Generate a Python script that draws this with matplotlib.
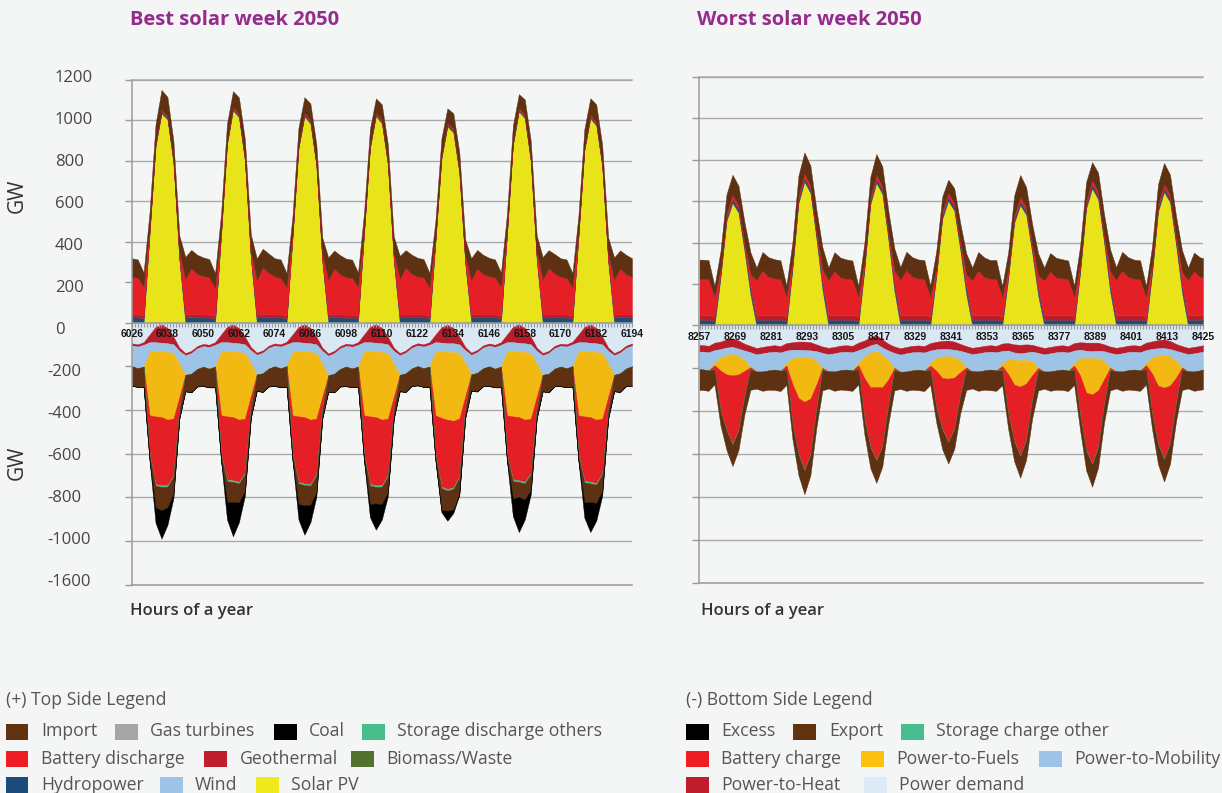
import numpy as np
import matplotlib
matplotlib.use("Agg")
import matplotlib.pyplot as plt
from matplotlib.patches import Rectangle

W, H = 1222, 793
BG = "#F4F6F5"
FONT = ["Open Sans", "DejaVu Sans"]

# ---------------- data: best solar week (2-hourly, GW) ----------------
best_hours = np.arange(6026, 6195, 2)
best_ticks = list(range(6026, 6195, 12))

best_solar = [
    0, 0, 0, 440, 870, 1035, 1005, 790, 310, 0, 0, 0,
    0, 0, 0, 430, 880, 1050, 1015, 800, 315, 0, 0, 0,
    0, 0, 0, 420, 860, 1020, 985, 775, 300, 0, 0, 0,
    0, 0, 0, 435, 860, 1022, 985, 780, 305, 0, 0, 0,
    0, 0, 0, 400, 810, 970, 940, 740, 290, 0, 0, 0,
    0, 0, 0, 430, 875, 1045, 1010, 795, 310, 0, 0, 0,
    0, 0, 0, 420, 850, 1010, 975, 770, 300, 0, 0, 0,
    0]
best_hydro = [
    25, 25, 22, 8, 8, 8, 8, 8, 10, 25, 26, 25,
    25, 24, 22, 8, 8, 8, 8, 8, 10, 24, 26, 25,
    25, 25, 22, 8, 8, 8, 8, 8, 10, 25, 26, 25,
    24, 24, 22, 8, 8, 8, 8, 8, 10, 25, 25, 25,
    25, 25, 22, 8, 8, 8, 8, 8, 10, 25, 26, 25,
    25, 25, 22, 8, 8, 8, 8, 8, 10, 24, 25, 25,
    25, 25, 22, 8, 8, 8, 8, 8, 10, 25, 26, 25,
    25]
best_geo = [
    15, 15, 15, 10, 8, 8, 8, 8, 10, 15, 15, 15,
    15, 15, 15, 10, 8, 8, 8, 8, 10, 15, 15, 15,
    15, 15, 15, 10, 8, 8, 8, 8, 10, 15, 15, 15,
    15, 15, 15, 10, 8, 8, 8, 8, 10, 15, 15, 15,
    15, 15, 15, 10, 8, 8, 8, 8, 10, 15, 15, 15,
    15, 15, 15, 10, 8, 8, 8, 8, 10, 15, 15, 15,
    15, 15, 15, 10, 8, 8, 8, 8, 10, 15, 15, 15,
    15]
best_battery = [
    186, 182, 140, 10, 3, 3, 3, 5, 20, 175, 228, 200,
    190, 185, 135, 10, 3, 3, 3, 5, 20, 170, 232, 205,
    188, 180, 138, 10, 3, 3, 3, 5, 20, 172, 225, 198,
    185, 182, 140, 10, 3, 3, 3, 5, 20, 178, 230, 202,
    186, 184, 136, 10, 3, 3, 3, 5, 20, 170, 226, 200,
    188, 182, 140, 10, 3, 3, 3, 5, 20, 175, 228, 203,
    186, 180, 138, 10, 3, 3, 3, 5, 20, 172, 226, 200,
    186]
best_import = [
    92, 90, 70, 80, 92, 97, 92, 88, 80, 110, 90, 95,
    92, 90, 72, 80, 85, 76, 80, 85, 80, 108, 92, 96,
    90, 92, 70, 80, 85, 76, 80, 85, 80, 110, 90, 95,
    92, 90, 70, 78, 80, 68, 75, 82, 80, 112, 88, 94,
    94, 90, 72, 78, 82, 71, 76, 82, 80, 108, 92, 95,
    92, 90, 70, 78, 80, 66, 75, 82, 80, 110, 90, 96,
    92, 92, 70, 80, 88, 81, 85, 86, 80, 110, 90, 95,
    92]
# bottom side (magnitudes, drawn as negative)
best_demand = [
    95, 100, 90, 55, 20, 8, 25, 65, 115, 140, 130, 108,
    98, 102, 90, 55, 20, 8, 25, 65, 112, 138, 128, 106,
    96, 100, 88, 55, 20, 8, 25, 65, 115, 142, 130, 108,
    97, 101, 90, 55, 20, 8, 25, 65, 115, 140, 128, 106,
    95, 100, 90, 55, 22, 10, 25, 65, 112, 138, 126, 105,
    96, 102, 90, 55, 20, 8, 25, 65, 115, 140, 130, 107,
    97, 100, 88, 55, 20, 8, 25, 65, 115, 140, 128, 106,
    96]
best_heat = [
    10, 10, 12, 35, 70, 85, 70, 35, 15, 10, 10, 10,
    10, 10, 12, 35, 70, 85, 70, 35, 15, 10, 10, 10,
    10, 10, 12, 35, 70, 85, 70, 35, 15, 10, 10, 10,
    10, 10, 12, 35, 70, 85, 70, 35, 15, 10, 10, 10,
    10, 10, 12, 35, 70, 85, 70, 35, 15, 10, 10, 10,
    10, 10, 12, 35, 70, 85, 70, 35, 15, 10, 10, 10,
    10, 10, 12, 35, 70, 85, 70, 35, 15, 10, 10, 10,
    10]
best_mobility = [
    95, 100, 100, 45, 40, 40, 40, 40, 60, 90, 95, 95,
    95, 100, 100, 45, 40, 40, 40, 40, 60, 90, 95, 95,
    95, 100, 100, 45, 40, 40, 40, 40, 60, 90, 95, 95,
    95, 100, 100, 45, 40, 40, 40, 40, 60, 90, 95, 95,
    95, 100, 100, 45, 40, 40, 40, 40, 60, 90, 95, 95,
    95, 100, 100, 45, 40, 40, 40, 40, 60, 90, 95, 95,
    95, 100, 100, 45, 40, 40, 40, 40, 60, 90, 95, 95,
    95]
best_fuels = [
    0, 0, 0, 290, 300, 300, 310, 300, 150, 0, 0, 0,
    0, 0, 0, 290, 300, 300, 310, 300, 150, 0, 0, 0,
    0, 0, 0, 290, 300, 300, 310, 300, 150, 0, 0, 0,
    0, 0, 0, 290, 300, 300, 310, 300, 150, 0, 0, 0,
    0, 0, 0, 290, 305, 310, 315, 300, 150, 0, 0, 0,
    0, 0, 0, 290, 300, 300, 310, 300, 150, 0, 0, 0,
    0, 0, 0, 290, 300, 300, 310, 300, 150, 0, 0, 0,
    0]
best_batt_charge = [
    0, 0, 0, 180, 310, 313, 300, 260, 60, 0, 0, 0,
    0, 0, 0, 180, 290, 290, 285, 250, 60, 0, 0, 0,
    0, 0, 0, 180, 300, 305, 295, 255, 60, 0, 0, 0,
    0, 0, 0, 180, 310, 313, 300, 260, 60, 0, 0, 0,
    0, 0, 0, 180, 315, 318, 305, 265, 60, 0, 0, 0,
    0, 0, 0, 180, 290, 290, 285, 250, 60, 0, 0, 0,
    0, 0, 0, 180, 295, 297, 290, 250, 60, 0, 0, 0,
    0]
best_storage = [
    0, 0, 0, 3, 7, 7, 7, 5, 0, 0, 0, 0,
    0, 0, 0, 3, 7, 7, 7, 5, 0, 0, 0, 0,
    0, 0, 0, 3, 7, 7, 7, 5, 0, 0, 0, 0,
    0, 0, 0, 3, 7, 7, 7, 5, 0, 0, 0, 0,
    0, 0, 0, 3, 7, 7, 7, 5, 0, 0, 0, 0,
    0, 0, 0, 3, 7, 7, 7, 5, 0, 0, 0, 0,
    0, 0, 0, 3, 7, 7, 7, 5, 0, 0, 0, 0,
    0]
best_export = [
    90, 85, 95, 25, 100, 107, 95, 80, 40, 75, 85, 80,
    88, 85, 95, 25, 95, 92, 88, 78, 40, 75, 85, 82,
    90, 86, 95, 25, 95, 92, 88, 78, 40, 75, 85, 80,
    90, 85, 95, 25, 85, 76, 80, 75, 40, 75, 85, 80,
    88, 85, 95, 25, 100, 92, 95, 80, 40, 75, 85, 82,
    90, 85, 95, 25, 80, 69, 75, 72, 40, 75, 85, 80,
    90, 86, 95, 25, 92, 85, 85, 78, 40, 75, 85, 80,
    90]
best_excess = [
    0, 0, 0, 0, 70, 130, 80, 20, 0, 0, 0, 0,
    0, 0, 0, 0, 80, 157, 90, 20, 0, 0, 0, 0,
    0, 0, 0, 0, 70, 135, 80, 20, 0, 0, 0, 0,
    0, 0, 0, 0, 60, 120, 70, 15, 0, 0, 0, 0,
    0, 0, 0, 0, 10, 46, 15, 0, 0, 0, 0, 0,
    0, 0, 0, 0, 80, 161, 90, 20, 0, 0, 0, 0,
    0, 0, 0, 0, 70, 138, 80, 20, 0, 0, 0, 0,
    0]

# ---------------- data: worst solar week (2-hourly, GW) ----------------
worst_hours = np.concatenate([[8257], np.arange(8258, 8425, 2), [8425]])
worst_ticks = list(range(8257, 8426, 12))

worst_solar = [0,
    0, 0, 0, 230, 505, 592, 545, 360, 150, 0, 0, 0,
    0, 0, 0, 270, 590, 694, 640, 420, 175, 0, 0, 0,
    0, 0, 0, 265, 585, 689, 635, 415, 170, 0, 0, 0,
    0, 0, 0, 235, 515, 602, 555, 365, 150, 0, 0, 0,
    0, 0, 0, 225, 495, 581, 535, 350, 145, 0, 0, 0,
    0, 0, 0, 255, 565, 662, 610, 400, 165, 0, 0, 0,
    0, 0, 0, 250, 550, 645, 595, 390, 160, 0, 0, 0,
    0]
worst_hydro = [28,
    28, 28, 25, 18, 16, 16, 16, 18, 28, 28, 28, 28,
    28, 28, 25, 18, 16, 16, 16, 18, 28, 28, 28, 28,
    28, 28, 25, 18, 16, 16, 16, 18, 28, 28, 28, 28,
    28, 28, 25, 18, 16, 16, 16, 18, 28, 28, 28, 28,
    28, 28, 25, 18, 16, 16, 16, 18, 28, 28, 28, 28,
    28, 28, 25, 18, 16, 16, 16, 18, 28, 28, 28, 28,
    28, 28, 25, 18, 16, 16, 16, 18, 28, 28, 28, 28,
    28]
worst_geo = [22,
    22, 22, 20, 14, 12, 12, 12, 14, 20, 22, 22, 22,
    22, 22, 20, 14, 12, 12, 12, 14, 20, 22, 22, 22,
    22, 22, 20, 14, 12, 12, 12, 14, 20, 22, 22, 22,
    22, 22, 20, 14, 12, 12, 12, 14, 20, 22, 22, 22,
    22, 22, 20, 14, 12, 12, 12, 14, 20, 22, 22, 22,
    22, 22, 20, 14, 12, 12, 12, 14, 20, 22, 22, 22,
    22, 22, 20, 14, 12, 12, 12, 14, 20, 22, 22, 22,
    22]
worst_battery = [176,
    176, 174, 95, 12, 10, 12, 10, 12, 50, 170, 216, 185,
    178, 175, 95, 12, 10, 12, 10, 12, 50, 168, 214, 183,
    176, 172, 95, 12, 10, 12, 10, 12, 50, 172, 218, 186,
    177, 174, 95, 12, 10, 12, 10, 12, 50, 170, 215, 184,
    176, 175, 95, 12, 10, 12, 10, 12, 50, 168, 212, 182,
    178, 174, 95, 12, 10, 12, 10, 12, 50, 172, 216, 185,
    176, 173, 95, 12, 10, 12, 10, 12, 50, 170, 214, 184,
    184]
worst_import = [92,
    92, 92, 50, 85, 90, 96, 92, 95, 105, 60, 89, 95,
    92, 90, 52, 88, 95, 102, 95, 95, 105, 62, 90, 95,
    93, 92, 50, 88, 95, 99, 95, 95, 105, 60, 88, 94,
    92, 92, 52, 80, 70, 62, 70, 85, 100, 60, 90, 95,
    90, 92, 50, 85, 95, 106, 95, 95, 105, 62, 88, 95,
    92, 90, 52, 85, 90, 87, 90, 92, 105, 60, 90, 95,
    92, 92, 50, 88, 95, 100, 95, 95, 105, 60, 88, 95,
    92]
worst_demand = [91,
    91, 95, 80, 75, 65, 60, 70, 85, 95, 105, 100, 95,
    92, 96, 82, 78, 75, 75, 78, 88, 98, 104, 100, 94,
    92, 95, 80, 70, 55, 45, 65, 85, 98, 106, 100, 95,
    93, 96, 82, 76, 72, 70, 75, 86, 96, 104, 100, 95,
    92, 95, 84, 82, 88, 90, 88, 90, 98, 105, 100, 95,
    92, 96, 82, 78, 80, 80, 80, 88, 98, 104, 100, 94,
    92, 95, 80, 74, 68, 65, 72, 86, 96, 104, 100, 95,
    92]
worst_heat = [31,
    31, 30, 35, 35, 38, 40, 38, 32, 30, 30, 30, 30,
    31, 30, 35, 35, 38, 40, 38, 32, 30, 30, 30, 30,
    31, 30, 35, 35, 38, 40, 38, 32, 30, 30, 30, 30,
    31, 30, 35, 35, 38, 40, 38, 32, 30, 30, 30, 30,
    31, 30, 35, 35, 38, 40, 38, 32, 30, 30, 30, 30,
    31, 30, 35, 35, 38, 40, 38, 32, 30, 30, 30, 30,
    31, 30, 35, 35, 38, 40, 38, 32, 30, 30, 30, 30,
    30]
worst_mobility = [83,
    83, 85, 60, 40, 35, 33, 35, 45, 70, 80, 85, 85,
    83, 85, 60, 40, 35, 33, 35, 45, 70, 80, 85, 85,
    83, 85, 60, 40, 35, 33, 35, 45, 70, 80, 85, 85,
    83, 85, 60, 40, 35, 33, 35, 45, 70, 80, 85, 85,
    83, 85, 60, 40, 35, 33, 35, 45, 70, 80, 85, 85,
    83, 85, 60, 40, 35, 33, 35, 45, 70, 80, 85, 85,
    83, 85, 60, 40, 35, 33, 35, 45, 70, 80, 85, 85,
    84]
worst_fuels = [0,
    0, 0, 10, 60, 90, 100, 85, 50, 0, 0, 0, 0,
    0, 0, 10, 120, 190, 208, 190, 110, 0, 0, 0, 0,
    0, 0, 10, 100, 160, 169, 150, 90, 0, 0, 0, 0,
    0, 0, 10, 60, 100, 105, 95, 55, 0, 0, 0, 0,
    0, 0, 10, 70, 115, 122, 110, 65, 0, 0, 0, 0,
    0, 0, 10, 80, 160, 169, 150, 85, 0, 0, 0, 0,
    0, 0, 10, 75, 140, 152, 135, 80, 0, 0, 0, 0,
    0]
worst_batt_charge = [0,
    0, 0, 20, 190, 260, 321, 260, 120, 10, 0, 0, 0,
    0, 0, 20, 190, 262, 320, 260, 120, 10, 0, 0, 0,
    0, 0, 20, 195, 280, 341, 275, 125, 10, 0, 0, 0,
    0, 0, 20, 175, 240, 295, 240, 110, 10, 0, 0, 0,
    0, 0, 20, 190, 265, 323, 262, 120, 10, 0, 0, 0,
    0, 0, 20, 190, 268, 326, 265, 120, 10, 0, 0, 0,
    0, 0, 20, 192, 272, 333, 270, 122, 10, 0, 0, 0,
    0]
worst_storage = [0,
    0, 0, 0, 2, 3, 3, 3, 2, 0, 0, 0, 0,
    0, 0, 0, 2, 3, 3, 3, 2, 0, 0, 0, 0,
    0, 0, 0, 2, 3, 3, 3, 2, 0, 0, 0, 0,
    0, 0, 0, 2, 3, 3, 3, 2, 0, 0, 0, 0,
    0, 0, 0, 2, 3, 3, 3, 2, 0, 0, 0, 0,
    0, 0, 0, 2, 3, 3, 3, 2, 0, 0, 0, 0,
    0, 0, 0, 2, 3, 3, 3, 2, 0, 0, 0, 0,
    0]
worst_export = [96,
    96, 95, 70, 65, 90, 100, 90, 80, 95, 80, 90, 90,
    95, 95, 70, 65, 95, 109, 95, 80, 95, 80, 90, 90,
    96, 95, 70, 65, 95, 104, 92, 80, 95, 80, 90, 90,
    95, 95, 70, 65, 90, 99, 90, 80, 95, 80, 90, 90,
    96, 95, 70, 65, 90, 100, 90, 80, 95, 80, 90, 90,
    95, 95, 70, 65, 92, 102, 92, 80, 95, 80, 90, 90,
    96, 95, 70, 65, 92, 103, 92, 80, 95, 80, 90, 90,
    92]

# ---------------- colours ----------------
C = dict(
    importc="#5D3112", gas="#A5A5A5", coal="#000000", storage="#47BD8E",
    battery="#E51F26", geo="#B91D29", biomass="#53722F", hydro="#1D4E7A",
    wind="#9DC3E6", solar="#E9E41A", fuels="#F3B913", demand="#DAE8F4",
)
GRID = "#A9A9A9"
SPINE = "#9A9A9A"
TITLE_C = "#952C8D"

fig = plt.figure(figsize=(W / 100, H / 100), dpi=100)
fig.patch.set_facecolor(BG)


def px_axes(x0, y0, x1, y1):
    return fig.add_axes([x0 / W, 1 - y1 / H, (x1 - x0) / W, (y1 - y0) / H])


def ftxt(x, y, s, **kw):
    kw.setdefault("family", FONT)
    return fig.text(x / W, 1 - y / H, s, **kw)


def draw_panel(x0, x1, ytop, yzero, ybot, hours, ticks, top_series, bot_series):
    top_vals, top_cols = zip(*top_series)
    bot_vals, bot_cols = zip(*bot_series)

    axb = px_axes(x0, yzero, x1, ybot)
    axt = px_axes(x0, ytop, x1, yzero)
    for ax in (axt, axb):
        ax.set_facecolor("none")
        ax.set_xlim(hours[0], hours[-1])
        ax.grid(axis="y", color=GRID, lw=1.0)
        ax.set_axisbelow(True)
        ax.spines["right"].set_visible(False)
        for s in ("left", "bottom", "top"):
            ax.spines[s].set_color(SPINE)
            ax.spines[s].set_linewidth(1.1)
        ax.tick_params(axis="y", length=5, width=1, color=SPINE,
                       labelleft=False, direction="out")

    axt.set_ylim(0, 1200)
    axt.set_yticks(range(0, 1201, 200))
    axt.spines["top"].set_color(GRID)
    axt.stackplot(hours, *[np.array(v, float) for v in top_vals],
                  colors=top_cols, edgecolor="face", linewidth=0.3)
    axt.set_xticks(ticks)
    axt.set_xticklabels([str(t) for t in ticks], fontsize=7.5,
                        fontweight="bold", family=["Liberation Sans", "DejaVu Sans"],
                        color="#151515")
    axt.set_xticks(range(hours[0], hours[-1] + 1), minor=True)
    axt.tick_params(axis="x", which="both", length=3, width=0.8,
                    color=SPINE, pad=1.5, direction="out")

    axb.set_ylim(-1200, 0)
    axb.set_yticks(range(-1200, 0, 200))
    axb.spines["top"].set_visible(False)
    axb.stackplot(hours, *[-np.array(v, float) for v in bot_vals],
                  colors=bot_cols, edgecolor="face", linewidth=0.3)
    axb.set_xticks([])
    return axt, axb


top_best = [
    (best_solar, C["solar"]), (best_hydro, C["hydro"]), (best_geo, C["geo"]),
    (best_battery, C["battery"]), (best_import, C["importc"]),
]
bot_best = [
    (best_demand, C["demand"]), (best_heat, C["geo"]), (best_mobility, C["wind"]),
    (best_fuels, C["fuels"]), (best_batt_charge, C["battery"]),
    (best_storage, C["storage"]), (best_export, C["importc"]), (best_excess, C["coal"]),
]
top_worst = [
    (worst_solar, C["solar"]), (worst_hydro, C["hydro"]), (worst_geo, C["geo"]),
    (worst_battery, C["battery"]), (worst_import, C["importc"]),
]
bot_worst = [
    (worst_demand, C["demand"]), (worst_heat, C["geo"]), (worst_mobility, C["wind"]),
    (worst_fuels, C["fuels"]), (worst_batt_charge, C["battery"]),
    (worst_storage, C["storage"]), (worst_export, C["importc"]),
]

draw_panel(131.7, 632, 80, 322.5, 584.5, best_hours, best_ticks, top_best, bot_best)
draw_panel(699.5, 1203, 77, 325.5, 582.5, worst_hours, worst_ticks, top_worst, bot_worst)

# ---------------- texts ----------------
ftxt(130, 20, "Best solar week 2050", fontsize=14.5, fontweight="bold",
     color=TITLE_C, ha="left", va="center")
ftxt(697, 20, "Worst solar week 2050", fontsize=14.5, fontweight="bold",
     color=TITLE_C, ha="left", va="center")

ylabels_pos = ["1200", "1000", "800", "600", "400", "200", "0"]
ylabels_neg = ["-200", "-400", "-600", "-800", "-1000", "-1600"]
for i, s in enumerate(ylabels_pos):
    ftxt(55, 78 + 42 * i, s, fontsize=12, color="#444444", ha="left", va="center")
for i, s in enumerate(ylabels_neg):
    ftxt(47, 372 + 42 * i, s, fontsize=12, color="#444444", ha="left", va="center")

ftxt(17, 196, "GW", fontsize=15, color="#333333", rotation=90, ha="center", va="center")
ftxt(17, 463, "GW", fontsize=15, color="#333333", rotation=90, ha="center", va="center")

ftxt(130, 611, "Hours of a year", fontsize=12, fontweight="semibold",
     color="#333333", ha="left", va="center")
ftxt(701, 611, "Hours of a year", fontsize=12, fontweight="semibold",
     color="#333333", ha="left", va="center")

# ---------------- legends ----------------
LEG_C = dict(
    importc="#62330F", gas="#A5A5A5", coal="#000000", storage="#47BD8E",
    battery="#EE1D23", geo="#BE1E2D", biomass="#53722F", hydro="#1B4C79",
    wind="#9DC3E6", solar="#EFE81A", fuels="#FCC010", demand="#DDEBF7",
)
LEG_FS = 12.7
ftxt(6, 700, "(+) Top Side Legend", fontsize=LEG_FS, color="#555555", ha="left", va="center")
ftxt(686, 700, "(-) Bottom Side Legend", fontsize=LEG_FS, color="#555555", ha="left", va="center")

legend_items = [
    # (patch x, row y, label, colour key, text x, patch width)
    (6, 731.5, "Import", "importc", 41, 22.5),
    (115, 731.5, "Gas turbines", "gas", 150, 22.5),
    (274, 731.5, "Coal", "coal", 309, 22.5),
    (362, 731.5, "Storage discharge others", "storage", 397, 22.5),
    (6, 758.5, "Battery discharge", "battery", 41, 22.5),
    (204, 758.5, "Geothermal", "geo", 240, 22.5),
    (351, 758.5, "Biomass/Waste", "biomass", 386, 22.5),
    (6, 785, "Hydropower", "hydro", 41, 22.5),
    (160, 785, "Wind", "wind", 195, 22.5),
    (256, 785, "Solar PV", "solar", 291, 22.5),
    (686, 731.5, "Excess", "coal", 721, 23),
    (793, 731.5, "Export", "importc", 829, 23),
    (901, 731.5, "Storage charge other", "storage", 936, 23),
    (686, 758.5, "Battery charge", "battery", 721, 23),
    (861, 758.5, "Power-to-Fuels", "fuels", 896, 23),
    (1039, 758.5, "Power-to-Mobility", "wind", 1074, 23),
    (686, 785, "Power-to-Heat", "geo", 721, 23),
    (864, 785, "Power demand", "demand", 899, 23),
]
for px, py, label, key, tx, pw in legend_items:
    fig.add_artist(Rectangle((px / W, 1 - (py + 8) / H), pw / W, 16 / H,
                             transform=fig.transFigure, facecolor=LEG_C[key],
                             edgecolor="none"))
    ftxt(tx, py, label, fontsize=LEG_FS, color="#555555", ha="left", va="center")

fig.savefig("out.png", dpi=100, facecolor=BG)
